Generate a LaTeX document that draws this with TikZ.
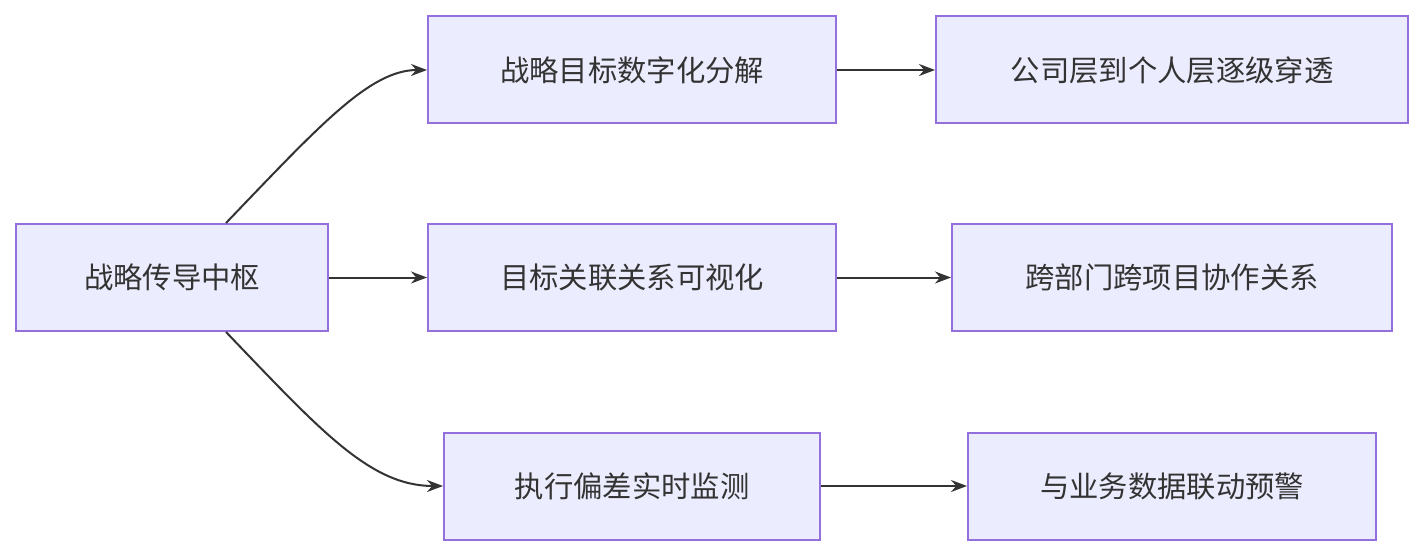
\documentclass[tikz,border=0pt]{standalone}
\usepackage{fontspec}
\setmainfont{Noto Sans CJK SC}
\usetikzlibrary{arrows.meta}
\definecolor{boxfill}{HTML}{ECECFF}
\definecolor{boxline}{HTML}{9370DB}
\definecolor{linkcol}{HTML}{333333}
\tikzset{every picture/.style={line width=0.75pt},
  box/.style={draw=boxline,fill=boxfill,line width=1.5pt,minimum height=80.25pt,inner sep=0pt,font=\fontsize{22}{26}\selectfont,text=linkcol},
  link/.style={draw=linkcol,line width=1.5pt,-{Stealth[length=12pt,width=9pt]}}}
\begin{document}
\begin{tikzpicture}[x=0.75pt,y=0.75pt,yscale=-1,xscale=1]
        \useasboundingbox (0,0) rectangle (1424,556);

        % Nodes
        \node [box,minimum width=234pt] (hub) at (172,277.5) {战略传导中枢};
        \node [box,minimum width=306pt] (dec) at (632,70) {战略目标数字化分解};
        \node [box,minimum width=306pt] (rel) at (632,277.5) {目标关联关系可视化};
        \node [box,minimum width=282pt] (mon) at (632,486) {执行偏差实时监测};
        \node [box,minimum width=354pt] (pen) at (1172,70) {公司层到个人层逐级穿透};
        \node [box,minimum width=330pt] (cro) at (1172,277.5) {跨部门跨项目协作关系};
        \node [box,minimum width=306pt] (war) at (1172,486) {与业务数据联动预警};

        \coordinate (hubtop) at (226,223);
        \coordinate (hubbot) at (226,332);

        % Links
        \draw [link] (hubtop) .. controls (320,125) and (370,70) .. (dec.west);
        \draw [link] (hub) -- (rel);
        \draw [link] (hubbot) .. controls (320,430) and (370,486) .. (mon.west);
        \draw [link] (dec) -- (pen);
        \draw [link] (rel) -- (cro);
        \draw [link] (mon) -- (war);
\end{tikzpicture}
\end{document}
